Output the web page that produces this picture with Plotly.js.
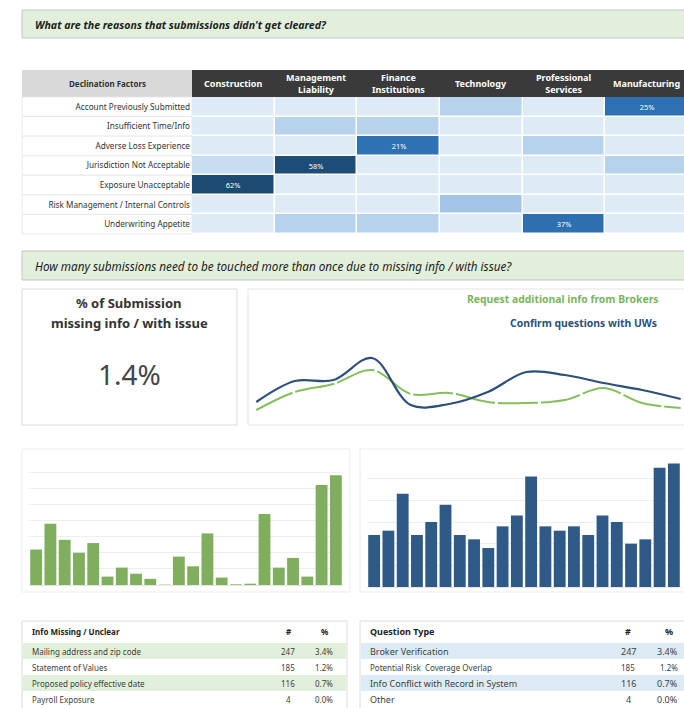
<!DOCTYPE html>
<html><head><meta charset="utf-8">
<script src="https://cdn.plot.ly/plotly-3.0.1.min.js"></script>
<style>html,body{margin:0;padding:0;background:#fff}#c{width:684px;height:708px}</style>
</head><body><div id="c"></div>
<script>
// ---------- data ----------
const factors = ['Account Previously Submitted','Insufficient Time/Info','Adverse Loss Experience','Jurisdiction Not Acceptable','Exposure Unacceptable','Risk Management / Internal Controls','Underwriting Appetite'];
const sectors = ['Construction','Management<br>Liability','Finance<br>Institutions','Technology','Professional<br>Services','Manufacturing'];
const declineShare = [
  [0.04,0.05,0.04,0.12,0.05,0.25],
  [0.05,0.12,0.12,0.04,0.05,0.04],
  [0.05,0.04,0.21,0.04,0.12,0.05],
  [0.10,0.58,0.04,0.05,0.05,0.12],
  [0.62,0.04,0.05,0.04,0.04,0.05],
  [0.04,0.05,0.04,0.13,0.05,0.04],
  [0.05,0.12,0.12,0.04,0.37,0.05]
];
const declineLabels = [
  ['','','','','','25%'],
  ['','','','','',''],
  ['','','21%','','',''],
  ['','58%','','','',''],
  ['62%','','','','',''],
  ['','','','','',''],
  ['','','','','37%','']
];
const months = ['Jan','Feb','Mar','Apr','May','Jun','Jul','Aug','Sep','Oct','Nov','Dec'];
const requestBrokers = [10,28,36,50,26,27,18,17,20,32,17,12];
const confirmUWs = [18,39,40,62,15,16,28,48,45,37,30,21];
const periods = [1,2,3,4,5,6,7,8,9,10,11,12,13,14,15,16,17,18,19,20,21,22];
const infoMissingCounts = [11,19,14,10,13,2.6,5.4,3.5,1.9,0.1,8.8,5.8,16,2.3,0.2,0.4,22,5.4,8.4,2.6,31,34];
const questionCounts = [24,26,43,24,30,38,24,22,18,28,33,51,28,26,28,24,33,30,20,22,55,57];
const kpiValue = '1.4%';
const infoItems = ['Mailing address and zip code','Statement of Values','Proposed policy effective date','Payroll Exposure'];
const infoNum = ['247','185','116','4'];
const infoPct = ['3.4%','1.2%','0.7%','0.0%'];
const questionTypes = ['Broker Verification','Potential Risk  Coverage Overlap','Info Conflict with Record in System','Other'];
const questionNum = ['247','185','116','4'];
const questionPct = ['3.4%','1.2%','0.7%','0.0%'];

// ---------- layout helpers ----------
const W=684, H=708;
const P = x => x/W, Q = y => 1 - y/H;
const shapes = [], ann = [];
function rect(x0,y0,x1,y1,fill,line,lw){
  shapes.push({type:'rect',xref:'paper',yref:'paper',x0:P(x0),x1:P(x1),y0:Q(y1),y1:Q(y0),
    fillcolor:fill,line:{color:line||'rgba(0,0,0,0)',width:(lw===undefined?1:lw)},layer:'below'});
}
function txt(x,y,t,o){
  ann.push(Object.assign({xref:'paper',yref:'paper',x:P(x),y:Q(y),text:t,showarrow:false,
    xanchor:'left',yanchor:'middle',font:{family:'Noto Sans',size:8,color:'#333'}},o||{}));
}
const F = 'Noto Sans';

// section headers
rect(22,10,690,38,'#e2efda','#c3c3c3',1);
txt(33,25,"<b><i>What are the reasons that submissions didn't get cleared?</i></b>",{font:{family:F,size:10.6,color:'#222'}});
rect(22,251,690,280,'#e2efda','#c3c3c3',1);
txt(33,266,"<i>How many submissions need to be touched more than once due to missing info / with issue?</i>",{font:{family:F,size:11.7,color:'#222'}});

// heatmap header row
rect(22,70,192,97,'#d9d9d9',null,0);
rect(192,70,690,97,'#3b3a3a',null,0);
txt(107,83.5,'<b>Declination Factors</b>',{xanchor:'center',font:{family:F,size:8,color:'#333'}});
sectors.forEach((s,i)=>{
  ann.push({xref:'x',yref:'paper',x:i,y:Q(83.5),text:'<b>'+s+'</b>',showarrow:false,xanchor:'center',yanchor:'middle',
    font:{family:F,size:9,color:'#fff'}});
});
// label column cells
factors.forEach((f,i)=>{
  const h=(234-97)/factors.length;
  rect(22,97+i*h,192,97+(i+1)*h,'#ffffff','#e4e4e4',0.8);
});

// KPI box
rect(22,289,237,425,'#ffffff','#d9d9d9',1);
txt(129,303,'<b>% of Submission</b>',{xanchor:'center',font:{family:F,size:13,color:'#333'}});
txt(129,323,'<b>missing info / with issue</b>',{xanchor:'center',font:{family:F,size:13,color:'#333'}});
txt(129,374,kpiValue,{xanchor:'center',font:{family:F,size:28,color:'#454545'}});

// line chart box + legend
rect(248,289,690,425,'#ffffff','#e3e3e3',1);
txt(661,299,'<b>Request additional info from Brokers</b>',{xanchor:'right',font:{family:F,size:10.4,color:'#7ab55c'}});
txt(659,323,'<b>Confirm questions with UWs</b>',{xanchor:'right',font:{family:F,size:10.4,color:'#2c4f7c'}});

// bar chart boxes
rect(22,449,350,592,'#ffffff','#ebebeb',1);
rect(360,449,690,592,'#ffffff','#ebebeb',1);

// tables
function table(x0,x1,numX,pctR,title,items,nums,pcts,band,hs,fs,fs2){
  rect(x0,621,x1,712,'#ffffff','#dcdcdc',1);
  txt(x0+8,631,'<b>'+title+'</b>',{font:{family:F,size:hs,color:'#222'}});
  txt(numX,631,'<b>#</b>',{xanchor:'center',font:{family:F,size:hs,color:'#222'}});
  txt(pctR-3,631,'<b>%</b>',{xanchor:'center',font:{family:F,size:hs,color:'#222'}});
  const rh=16, top=643;
  items.forEach((it,i)=>{
    const y0=top+i*rh;
    if(i%2===0) rect(x0+1,y0,x1-1,y0+rh,band,null,0);
    const s = (i===1)?fs2:fs;
    txt(x0+8,y0+rh/2,it,{font:{family:F,size:s,color:'#404040'}});
    txt(numX,y0+rh/2,nums[i],{xanchor:'center',font:{family:F,size:s,color:'#404040'}});
    txt(pctR+8,y0+rh/2,pcts[i],{xanchor:'right',font:{family:F,size:s,color:'#404040'}});
  });
}
table(22,347,288,327,'Info Missing / Unclear',infoItems,infoNum,infoPct,'#e2efda',8,8,8);
table(360,690,628,672,'Question Type',questionTypes,questionNum,questionPct,'#ddebf7',9,9,8);

// ---------- traces ----------
const traces = [
  {type:'heatmap',x:[0,1,2,3,4,5],y:[0,1,2,3,4,5,6],z:declineShare,text:declineLabels,texttemplate:'%{text}',
   textfont:{family:F,size:7.4,color:'#ffffff'},xgap:1.5,ygap:1.5,zmin:0,zmax:0.62,showscale:false,hoverinfo:'skip',
   colorscale:[[0,'#deebf7'],[0.1,'#deebf7'],[0.19,'#bcd6ee'],[0.3,'#2e72b4'],[0.62,'#2e6fb0'],[0.9,'#1f4e79'],[1,'#1d4a73']],
   xaxis:'x',yaxis:'y'},
  {type:'scatter',mode:'lines',x:months,y:requestBrokers,line:{color:'#86bd5e',width:2,shape:'spline',smoothing:1,dash:'40px,3px'},
   xaxis:'x2',yaxis:'y2',hoverinfo:'skip'},
  {type:'scatter',mode:'lines',x:months,y:confirmUWs,line:{color:'#2c4f7c',width:2.2,shape:'spline',smoothing:1},
   xaxis:'x2',yaxis:'y2',hoverinfo:'skip'},
  {type:'bar',x:periods,y:infoMissingCounts,marker:{color:'#7fae5f'},xaxis:'x3',yaxis:'y3',hoverinfo:'skip'},
  {type:'bar',x:periods,y:questionCounts,marker:{color:'#2f5a88'},xaxis:'x4',yaxis:'y4',hoverinfo:'skip'}
];

const hid = {showgrid:false,zeroline:false,showticklabels:false,showline:false,ticks:''};
const layout = {
  width:W,height:H,margin:{l:0,r:0,t:0,b:0},paper_bgcolor:'#ffffff',plot_bgcolor:'rgba(0,0,0,0)',
  showlegend:false,font:{family:F},bargap:0.17,
  xaxis:Object.assign({},hid,{domain:[P(192),1],range:[-0.5,5.45],fixedrange:true}),
  yaxis:{domain:[Q(234),Q(97)],range:[6.5,-0.5],tickvals:[0,1,2,3,4,5,6],ticktext:factors,showgrid:false,zeroline:false,
    ticks:'',tickfont:{family:F,size:8.2,color:'#333'},ticklabelstandoff:1,automargin:false},
  xaxis2:Object.assign({},hid,{domain:[P(254),P(683)],range:[-0.06,11.06],anchor:'y2'}),
  yaxis2:Object.assign({},hid,{domain:[Q(420),Q(345)],range:[0,75],anchor:'x2'}),
  xaxis3:Object.assign({},hid,{domain:[P(29),P(343)],range:[0.5,22.5],anchor:'y3'}),
  yaxis3:{domain:[Q(585),Q(456)],range:[0,40],dtick:5,showgrid:true,gridcolor:'#eeeeee',zeroline:true,zerolinecolor:'#e6e6e6',
    showticklabels:false,ticks:'',anchor:'x3'},
  xaxis4:Object.assign({},hid,{domain:[P(367),P(681)],range:[0.5,22.5],anchor:'y4'}),
  yaxis4:{domain:[Q(587),Q(457)],range:[0,60],dtick:10,showgrid:true,gridcolor:'#eeeeee',zeroline:true,zerolinecolor:'#e6e6e6',
    showticklabels:false,ticks:'',anchor:'x4'},
  shapes:shapes,annotations:ann
};
Plotly.newPlot('c',traces,layout,{displayModeBar:false,staticPlot:true});
</script></body></html>
